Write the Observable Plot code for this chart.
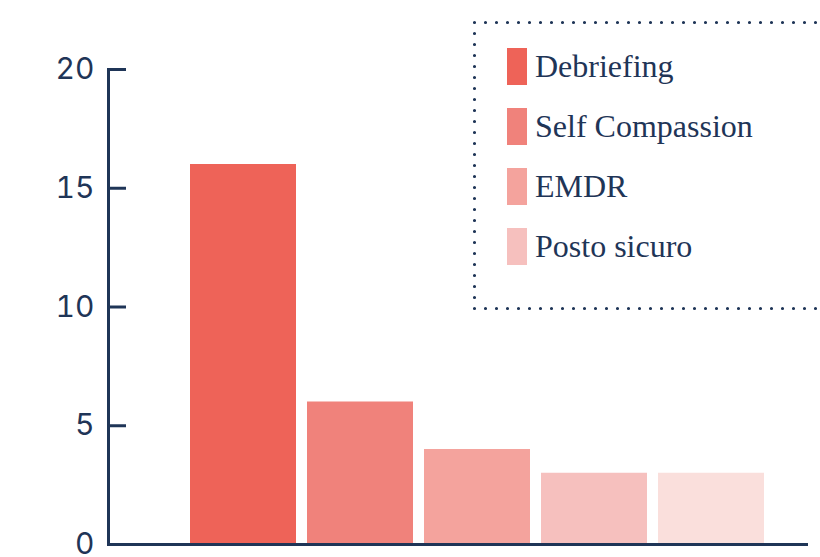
<!DOCTYPE html>
<html><head><meta charset="utf-8">
<script src="https://cdn.jsdelivr.net/npm/d3@7"></script>
<script src="https://cdn.jsdelivr.net/npm/@observablehq/plot@0.6"></script>
<style>
body{margin:0;background:#fff;}
#wrap{position:relative;width:820px;height:557px;overflow:hidden;background:#fff;}
#wrap svg.plot{position:absolute;left:0;top:0;}
#legend{position:absolute;left:473px;top:21px;width:400px;height:288px;}
#legend svg{position:absolute;left:0;top:0;overflow:visible;}
.item{position:absolute;left:34px;height:37px;display:flex;align-items:center;}
.sw{width:20px;height:37px;margin-right:8px;flex:none;}
.lab{font-family:"Liberation Serif",serif;font-size:32px;color:#1f3557;white-space:nowrap;line-height:37px;}
</style></head><body><div id="wrap"></div>
<script>
const categories = ["Debriefing","Self Compassion","EMDR","Posto sicuro","Altro"];
const values = [16,6,4,3,3];
const colors = ["#ee6358","#f0827b","#f4a39d","#f6c0be","#fadfdc"];
const legendLabels = ["Debriefing","Self Compassion","EMDR","Posto sicuro"];
const yTicks = [0,5,10,15,20];
const navy = "#1f3557";

const data = categories.map((c,i)=>({category:c, value:values[i]}));

const chart = Plot.plot({
  width:820, height:557,
  marginLeft:108, marginRight:14, marginTop:69, marginBottom:13,
  style:{background:"transparent", color:navy, fontFamily:"Inter, sans-serif"},
  x:{domain:categories, range:[188,766], paddingInner:0.093, paddingOuter:0, axis:null},
  y:{domain:[0,20], axis:null},
  color:{domain:categories, range:colors},
  marks:[
    Plot.barY(data,{x:"category", y:"value", fill:"category"}),
    Plot.axisY(yTicks,{label:null, tickSize:-18, tickPadding:32, strokeWidth:3, stroke:navy, fontSize:30, fill:navy}),
    Plot.frame({anchor:"left", stroke:navy, strokeWidth:3}),
    Plot.frame({anchor:"bottom", stroke:navy, strokeWidth:3})
  ]
});
chart.classList.add("plot");
const wrap = document.getElementById("wrap");
wrap.appendChild(chart);

// legend
const legend = document.createElement("div");
legend.id = "legend";
const ns = "http://www.w3.org/2000/svg";
const bsvg = document.createElementNS(ns,"svg");
bsvg.setAttribute("width","400"); bsvg.setAttribute("height","288");
const rect = document.createElementNS(ns,"rect");
rect.setAttribute("x","1.5"); rect.setAttribute("y","1.5");
rect.setAttribute("width","396"); rect.setAttribute("height","286");
rect.setAttribute("fill","none"); rect.setAttribute("stroke",navy);
rect.setAttribute("stroke-width","3.2"); rect.setAttribute("stroke-linecap","round");
rect.setAttribute("stroke-dasharray","0 11");
bsvg.appendChild(rect);
legend.appendChild(bsvg);
legendLabels.forEach((l,i)=>{
  const it = document.createElement("div");
  it.className = "item";
  it.style.top = (27 + 60*i) + "px";
  const sw = document.createElement("div");
  sw.className = "sw"; sw.style.background = colors[i];
  const lab = document.createElement("span");
  lab.className = "lab"; lab.textContent = l;
  it.appendChild(sw); it.appendChild(lab);
  legend.appendChild(it);
});
wrap.appendChild(legend);
</script>
</body></html>
